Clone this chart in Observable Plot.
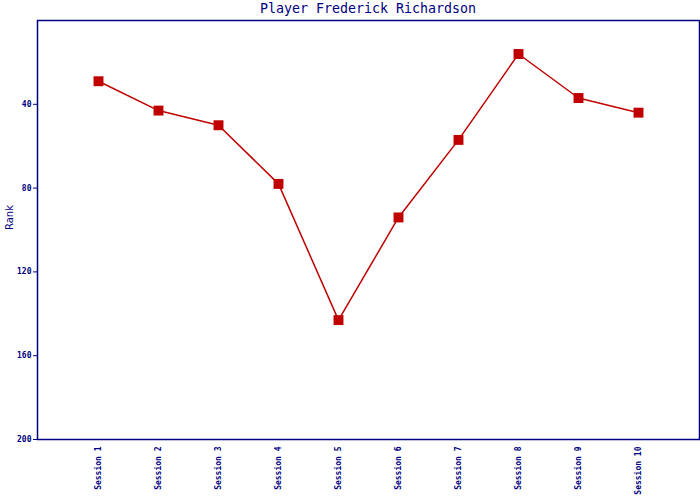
<!DOCTYPE html>
<html>
<head>
<meta charset="utf-8">
<script src="https://cdn.jsdelivr.net/npm/d3@7"></script>
<script src="https://cdn.jsdelivr.net/npm/@observablehq/plot@0.6"></script>
<style>
  html, body { margin: 0; padding: 0; background: #fff; }
  #title { height: 19px; width: 700px; font-family: "DejaVu Sans Mono", monospace; font-size: 13.3px; color: #000080; line-height: 17px; }
  #title span { display: block; margin-left: 37px; width: 662px; text-align: center; }
</style>
</head>
<body>
<div id="title"><span>Player Frederick Richardson</span></div>
<div id="chart"></div>
<script>
const sessions = ["Session 1","Session 2","Session 3","Session 4","Session 5","Session 6","Session 7","Session 8","Session 9","Session 10"];
const ranks = [29, 43, 50, 78, 143, 94, 57, 16, 37, 44];
const yTicks = [40, 80, 120, 160, 200];

const data = sessions.map((s, i) => ({session: s, rank: ranks[i]}));
const navy = "#000080";
const red = "#c00000";

const chart = Plot.plot({
  width: 700,
  height: 481,
  marginTop: 1,
  marginLeft: 37,
  marginRight: 1,
  marginBottom: 61,
  style: {fontFamily: "DejaVu Sans Mono, monospace", fontSize: "8px", color: navy, background: "#fff"},
  x: {type: "point", domain: sessions, padding: 0.98},
  y: {domain: [0, 200], reverse: true},
  marks: [
    Plot.frame({stroke: navy, strokeWidth: 1.5}),
    Plot.axisY({ticks: yTicks, tickSize: 4, tickPadding: 2, stroke: navy, fill: navy, fontWeight: "bold", label: null}),
    Plot.text(["Rank"], {frameAnchor: "left", dx: -28, rotate: -90, fill: navy, fontFamily: "DejaVu Sans, sans-serif", fontSize: 10}),
    Plot.axisX({tickSize: 0, tickPadding: 7, tickRotate: -90, fill: navy, fontWeight: "bold", label: null}),
    Plot.line(data, {x: "session", y: "rank", stroke: red, strokeWidth: 1.5}),
    Plot.dot(data, {x: "session", y: "rank", symbol: "square", r: 5.6, fill: red, stroke: "none"})
  ]
});
document.getElementById("chart").appendChild(chart);
</script>
</body>
</html>
